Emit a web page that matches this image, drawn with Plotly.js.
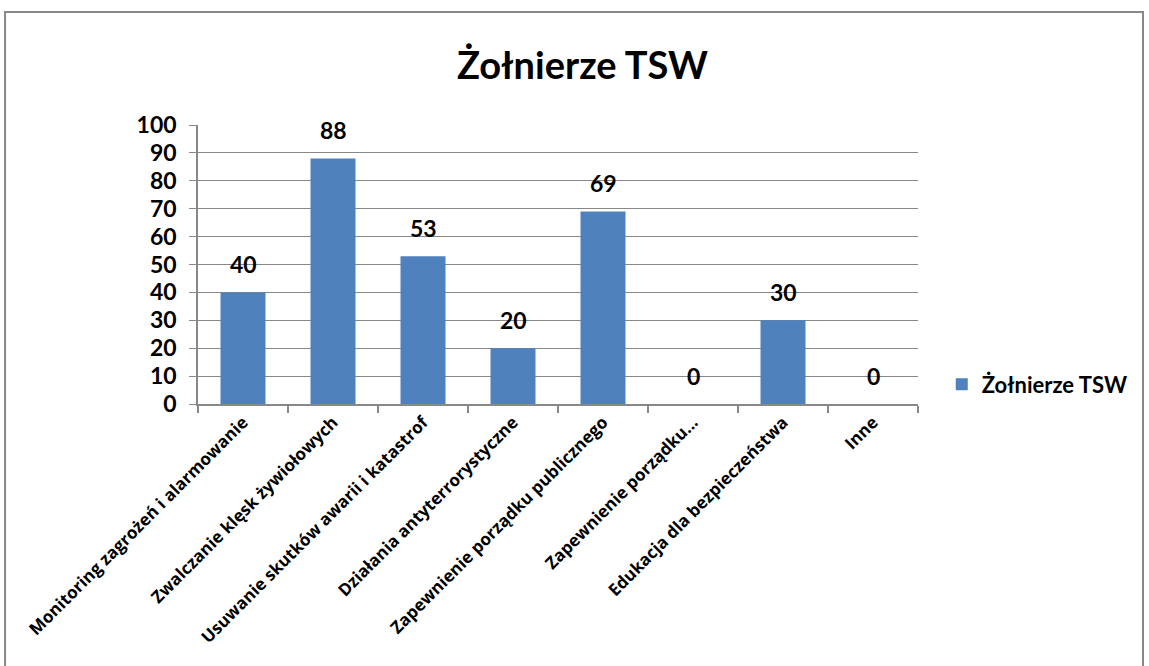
<!DOCTYPE html>
<html><head><meta charset="utf-8">
<script src="https://cdn.plot.ly/plotly-3.0.1.min.js"></script>
<style>html,body{margin:0;padding:0;background:#fff}#chart{width:1149px;height:666px}</style>
</head><body><div id="chart"></div>
<script>
const categories = [
  "Monitoring zagrożeń i alarmowanie",
  "Zwalczanie klęsk żywiołowych",
  "Usuwanie skutków awarii i katastrof",
  "Działania antyterrorystyczne",
  "Zapewnienie porządku publicznego",
  "Zapewnienie porządku...",
  "Edukacja dla bezpieczeństwa",
  "Inne"
];
const values = [40, 88, 53, 20, 69, 0, 30, 0];
const seriesName = "Żołnierze TSW";
const yTicks = [0,10,20,30,40,50,60,70,80,90,100];

const F = "Lato, 'Open Sans', sans-serif";
const trace = {
  type: "bar", x: categories, y: values, name: "<b>" + seriesName + "</b>",
  marker: {color: "#4f81bd", line: {width: 0}},
  showlegend: true
};
const annotations = categories.map((c, i) => ({
  x: c, y: values[i], xref: "x", yref: "y", text: "<b>" + values[i] + "</b>",
  showarrow: false, yanchor: "bottom", yshift: 12,
  font: {family: F, size: 23, color: "#000"}
}));
const layout = {
  width: 1149, height: 666,
  margin: {l: 198, r: 231, t: 125, b: 262},
  paper_bgcolor: "#fff", plot_bgcolor: "#fff",
  font: {family: F, color: "#000"},
  title: {text: "<b>Żołnierze TSW</b>", x: 0.507, xanchor: "center", y: 0.902, yanchor: "middle",
          font: {family: F, size: 38, color: "#000"}},
  bargap: 0.5,
  annotations: annotations,
  xaxis: {type: "category", tickangle: -45, tickson: "boundaries", ticks: "outside", ticklen: 7,
          tickvals: categories, ticktext: categories.map(c => "<b>" + c + "</b>"),
          tickcolor: "#888", tickwidth: 1.5, showline: true, linecolor: "#888", linewidth: 1.5,
          showgrid: false, tickfont: {family: "'Open Sans', sans-serif", size: 17, color: "#000"}},
  yaxis: {range: [0, 100], tickvals: yTicks, ticktext: yTicks.map(v => "<b>" + v + "</b>"),
          ticks: "outside", ticklen: 7, tickcolor: "#888", ticklabelstandoff: 8,
          showline: true, linecolor: "#888", linewidth: 1.5, gridcolor: "#888", gridwidth: 1,
          zeroline: false, tickfont: {family: F, size: 23, color: "#000"}},
  legend: {x: 1.033, y: 0.07, xanchor: "left", yanchor: "middle", font: {family: F, size: 22},
           itemwidth: 30, bgcolor: "rgba(0,0,0,0)"},
  shapes: [{type: "rect", xref: "paper", yref: "paper", x0: -0.268, x1: 1.3125, y0: -1.2, y1: 1.405,
            line: {color: "#888", width: 2}, fillcolor: "rgba(0,0,0,0)", layer: "below"}]
};
Plotly.newPlot("chart", [trace], layout, {displayModeBar: false});
</script></body></html>
